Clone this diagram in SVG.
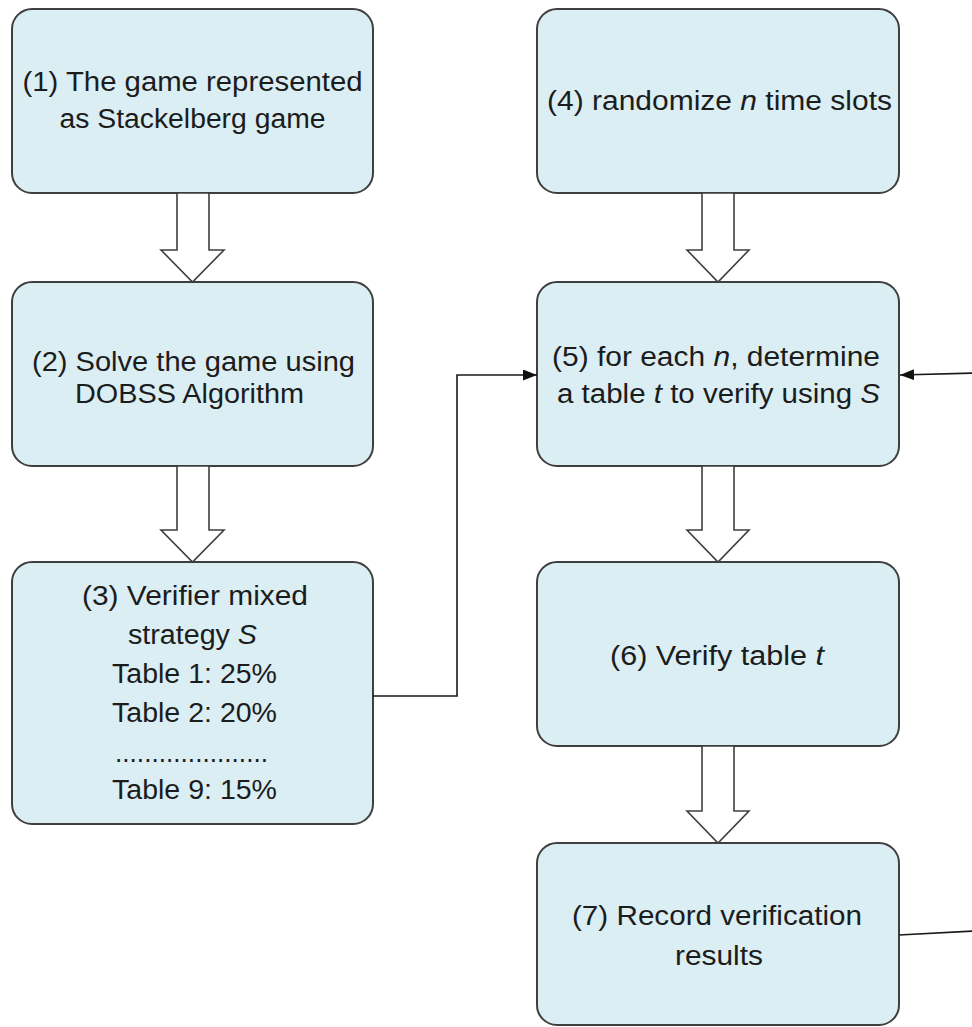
<svg xmlns="http://www.w3.org/2000/svg" width="972" height="1027" viewBox="0 0 972 1027">
  <defs>
    <marker id="arrowhead" viewBox="0 0 14 11" refX="14" refY="5.5" markerWidth="14" markerHeight="11" markerUnits="userSpaceOnUse" orient="auto">
      <path d="M0,0 L14,5.5 L0,11 Z" fill="#111"/>
    </marker>
    <style>
      .box { fill: #daeef3; stroke: #3f3f3f; stroke-width: 2; }
      .lbl { font-family: "Liberation Sans", Arial, sans-serif; font-size: 27px; fill: #1c1c1c; text-anchor: middle; }
      .it { font-style: italic; }
      .block { fill: #ffffff; stroke: #3f3f3f; stroke-width: 1.6; stroke-linejoin: miter; }
      .conn { fill: none; stroke: #1a1a1a; stroke-width: 1.6; }
    </style>
  </defs>
  <rect width="972" height="1027" fill="#ffffff"/>

  <!-- left column -->
  <g id="node1">
    <rect class="box" x="12" y="9" width="361" height="184" rx="20"/>
    <text class="lbl" x="192.5" y="91" textLength="340" lengthAdjust="spacingAndGlyphs">(1) The game represented</text>
    <text class="lbl" x="192.5" y="128" textLength="266" lengthAdjust="spacingAndGlyphs">as Stackelberg game</text>
  </g>
  <g id="node2">
    <rect class="box" x="12" y="282" width="361" height="184" rx="20"/>
    <text class="lbl" x="193.5" y="371" textLength="323" lengthAdjust="spacingAndGlyphs">(2) Solve the game using</text>
    <text class="lbl" x="189.5" y="403" textLength="229" lengthAdjust="spacingAndGlyphs">DOBSS Algorithm</text>
  </g>
  <g id="node3">
    <rect class="box" x="12" y="562" width="361" height="262" rx="20"/>
    <text class="lbl" x="195" y="605" textLength="226" lengthAdjust="spacingAndGlyphs">(3) Verifier mixed</text>
    <text class="lbl" x="192.5" y="644" textLength="129" lengthAdjust="spacingAndGlyphs">strategy <tspan class="it">S</tspan></text>
    <text class="lbl" x="194.5" y="683" textLength="165" lengthAdjust="spacingAndGlyphs">Table 1: 25%</text>
    <text class="lbl" x="194.5" y="722" textLength="165" lengthAdjust="spacingAndGlyphs">Table 2: 20%</text>
    <text class="lbl" x="191.5" y="762" textLength="153" lengthAdjust="spacingAndGlyphs">.....................</text>
    <text class="lbl" x="194.5" y="799" textLength="165" lengthAdjust="spacingAndGlyphs">Table 9: 15%</text>
  </g>

  <!-- right column -->
  <g id="node4">
    <rect class="box" x="537" y="9" width="362" height="184" rx="20"/>
    <text class="lbl" x="719.5" y="110" textLength="345" lengthAdjust="spacingAndGlyphs">(4) randomize <tspan class="it">n</tspan> time slots</text>
  </g>
  <g id="node5">
    <rect class="box" x="537" y="282" width="362" height="184" rx="20"/>
    <text class="lbl" x="716" y="366" textLength="328" lengthAdjust="spacingAndGlyphs">(5) for each <tspan class="it">n</tspan>, determine</text>
    <text class="lbl" x="718.5" y="403" textLength="323" lengthAdjust="spacingAndGlyphs">a table <tspan class="it">t</tspan> to verify using <tspan class="it">S</tspan></text>
  </g>
  <g id="node6">
    <rect class="box" x="537" y="562" width="362" height="184" rx="20"/>
    <text class="lbl" x="717" y="665" textLength="214" lengthAdjust="spacingAndGlyphs">(6) Verify table <tspan class="it">t</tspan></text>
  </g>
  <g id="node7">
    <rect class="box" x="537" y="843" width="362" height="182" rx="20"/>
    <text class="lbl" x="717" y="925" textLength="290" lengthAdjust="spacingAndGlyphs">(7) Record verification</text>
    <text class="lbl" x="719" y="965" textLength="88" lengthAdjust="spacingAndGlyphs">results</text>
  </g>

  <!-- connectors -->
  <g id="connectors">
    <!-- hollow block arrows between stacked steps -->
    <path class="block" d="M177,193 L209,193 L209,250 L224,250 L192.5,282 L161,250 L177,250 Z"/>
    <path class="block" d="M177,466 L209,466 L209,530 L224,530 L192.5,562 L161,530 L177,530 Z"/>
    <path class="block" d="M702,193 L734,193 L734,250 L749,250 L718,282 L687,250 L702,250 Z"/>
    <path class="block" d="M702,466 L734,466 L734,530 L749,530 L718,562 L687,530 L702,530 Z"/>
    <path class="block" d="M702,746 L734,746 L734,811 L749,811 L718,843 L687,811 L702,811 Z"/>
    <!-- strategy feeds the table selection -->
    <polyline class="conn" points="373,696 457,696 457,375 537,375" marker-end="url(#arrowhead)"/>
    <!-- loop back from recorded results -->
    <line class="conn" x1="899" y1="935" x2="975" y2="931"/>
    <line class="conn" x1="975" y1="373" x2="900" y2="375" marker-end="url(#arrowhead)"/>
  </g>
</svg>
